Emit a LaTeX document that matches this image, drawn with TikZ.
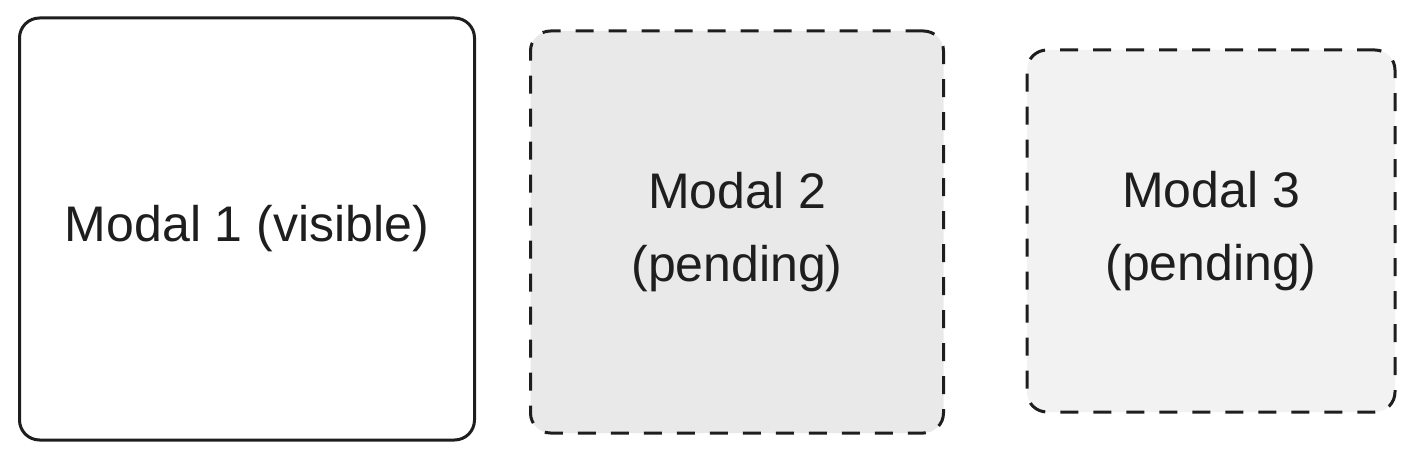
\documentclass[tikz,border=0pt]{standalone}
\usepackage{fontspec}
\setmainfont{Liberation Sans}
\definecolor{ink}{HTML}{1E1E1E}
\definecolor{fillA}{HTML}{E9E9E9}
\definecolor{fillB}{HTML}{F2F2F2}
\tikzset{
  modal/.style={draw=ink, line width=3pt, rounded corners=20pt, text=ink,
    align=center, font=\fontsize{50}{73}\selectfont, inner sep=0pt},
  pendingbox/.style={modal, dash pattern=on 18pt off 15pt}
}
\begin{document}
\begin{tikzpicture}[x=1pt,y=-1pt]
\useasboundingbox (0,0) rectangle (1417,460);
\node[modal, fill=white, minimum width=455pt, minimum height=422pt] (m1) at (247,229) {Modal 1 (visible)};
\node[pendingbox, fill=fillA, minimum width=413pt, minimum height=402pt] (m2) at (737,232) {Modal 2\\(pending)};
\node[pendingbox, fill=fillB, minimum width=368pt, minimum height=362pt] (m3) at (1211,231) {Modal 3\\(pending)};
\end{tikzpicture}
\end{document}
